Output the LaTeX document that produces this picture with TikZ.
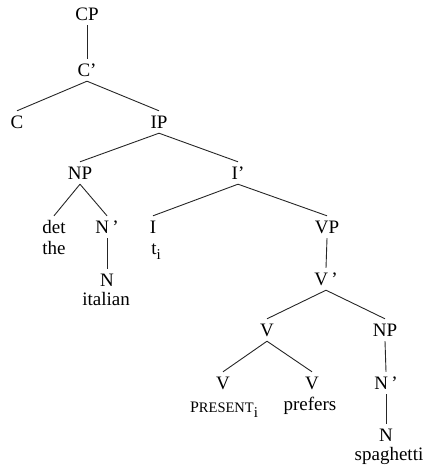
\documentclass[tikz,border=0pt]{standalone}
\usepackage{fontspec}
\setmainfont{Liberation Serif}
\begin{document}
\begin{tikzpicture}[x=1pt,y=-1pt,
  lab/.style={inner xsep=1pt, inner ysep=0pt, text height=12.5pt, text depth=0pt,
              minimum height=22pt, font=\fontsize{19}{19}\selectfont},
  word/.style={inner sep=0pt, text height=12.5pt, text depth=0pt, font=\fontsize{19}{19}\selectfont},
  br/.style={line width=0.9pt, black!85}]
\useasboundingbox (0,0) rectangle (427,470);
% labels
\node[lab] (CP)  at (87,14)  {CP};
\node[lab] (Cb)  at (87,70)  {C’};
\node[lab] (C)   at (17,122) {C};
\node[lab] (IP)  at (159,122) {IP};
\node[lab] (NP1) at (80,173) {NP};
\node[lab] (Ib)  at (238,173) {I’};
\node[lab] (det) at (54,227) {det};
\node[word] (the) at (54,248) {the};
\node[lab] (Nb1) at (107,227) {N\,’};
\node[lab] (N1)  at (107,280) {N};
\node[word] (ital) at (106,299) {italian};
\node[lab] (I)   at (153,227) {I};
\node[word] (ti) at (156,248) {t\raisebox{-5pt}{\fontsize{15}{15}\selectfont i}};
\node[lab] (VP)  at (327,227) {VP};
\node[lab] (Vb)  at (326,279) {V\,’};
\node[lab] (V)   at (267,330) {V};
\node[lab] (NP2) at (385,330) {NP};
\node[lab] (V1)  at (223,383) {V};
\node[lab] (V2)  at (312,383) {V};
\node[word] (pres) at (224,406) {{\fontsize{16}{16}\selectfont P}{\fontsize{14.5}{14.5}\selectfont RESENT}\raisebox{-5pt}{\fontsize{15}{15}\selectfont i}};
\node[word] (pref) at (310,404) {prefers};
\node[lab] (Nb2) at (386,383) {N\,’};
\node[lab] (N2)  at (386,435) {N};
\node[word] (spag) at (389,454) {spaghetti};
% branches
\draw[br] (CP.south) -- (Cb.north);
\draw[br] (Cb.south) -- (C.north);
\draw[br] (Cb.south) -- (IP.north);
\draw[br] (IP.south) -- (NP1.north);
\draw[br] (IP.south) -- (Ib.north);
\draw[br] (NP1.south) -- (det.north);
\draw[br] (NP1.south) -- (Nb1.north);
\draw[br] (Nb1.south) -- (N1.north);
\draw[br] (Ib.south) -- (I.north);
\draw[br] (Ib.south) -- (VP.north);
\draw[br] (VP.south) -- (Vb.north);
\draw[br] (Vb.south) -- (V.north);
\draw[br] (Vb.south) -- (NP2.north);
\draw[br] (V.south) -- (V1.north);
\draw[br] (V.south) -- (V2.north);
\draw[br] (NP2.south) -- (Nb2.north);
\draw[br] (Nb2.south) -- (N2.north);
\end{tikzpicture}
\end{document}
